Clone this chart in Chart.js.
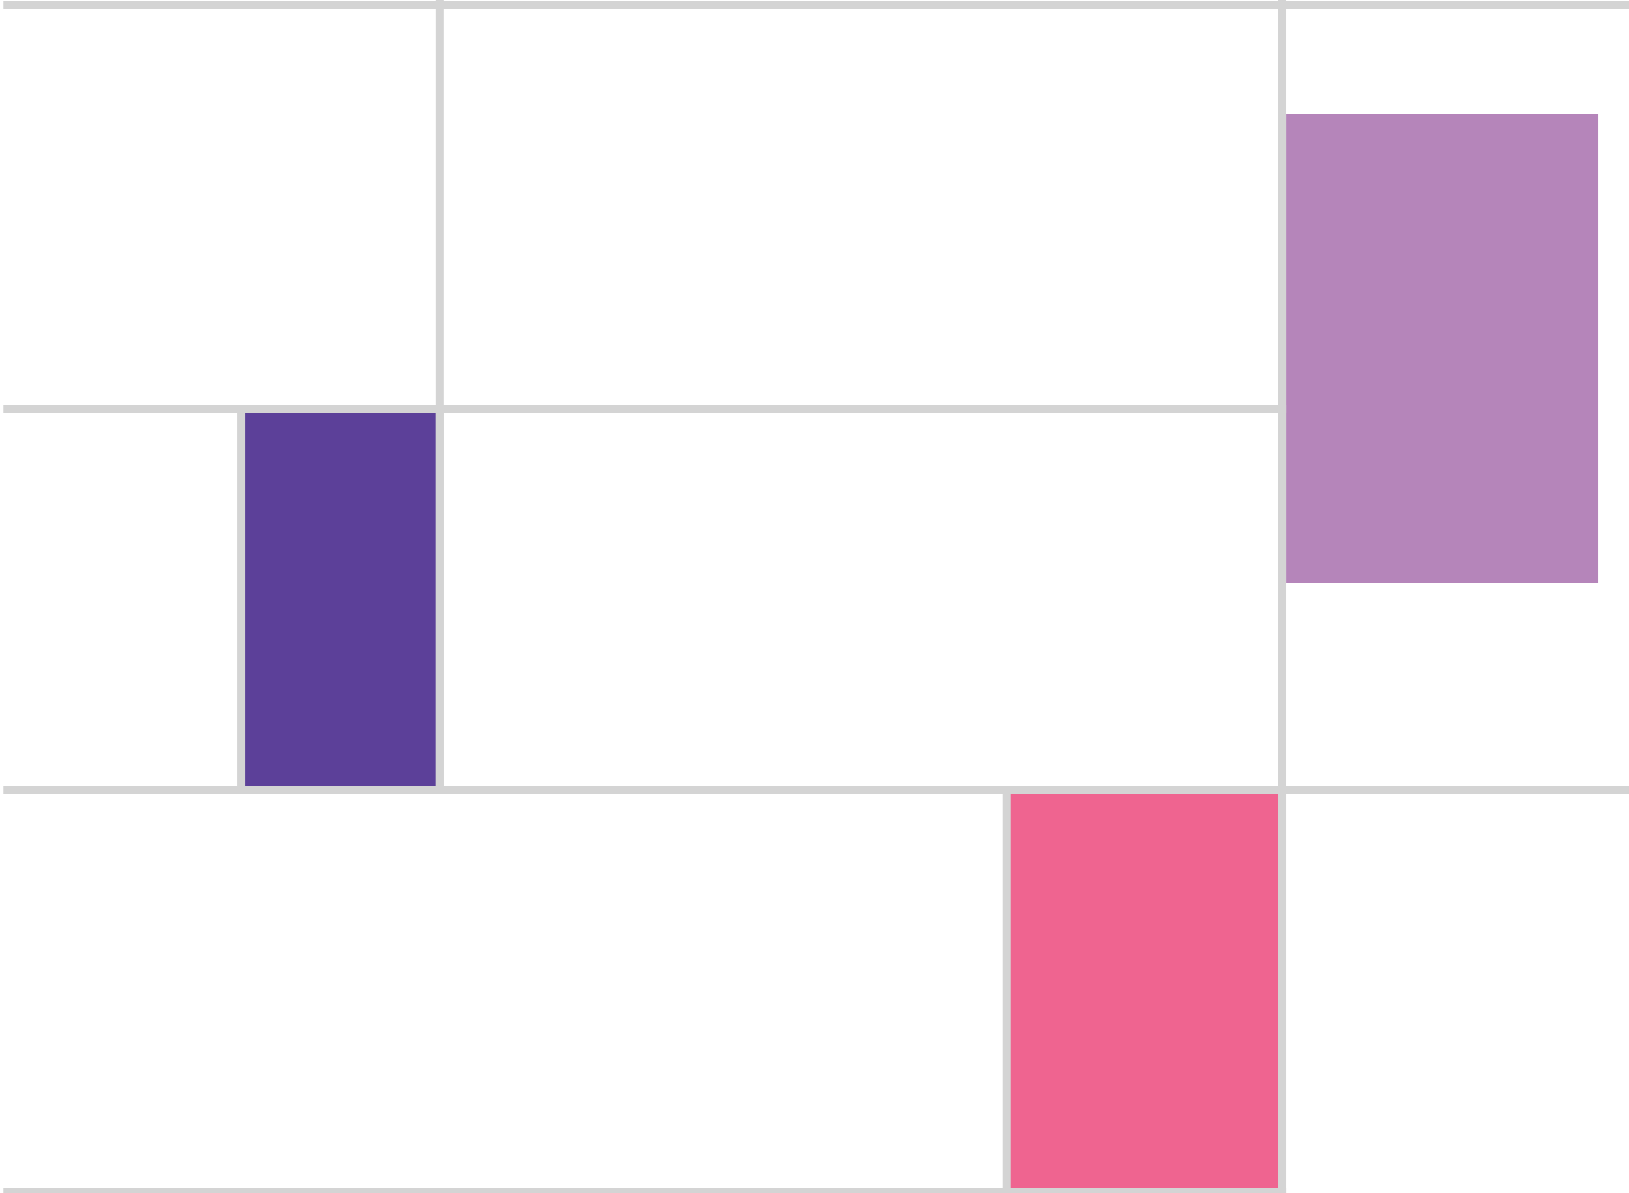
<!DOCTYPE html>
<html lang="en">
<head>
    <meta charset="UTF-8" />
    <title>Blocks</title>
    <script src="https://cdn.jsdelivr.net/npm/chart.js"></script>
    <style>
        html, body {
            margin: 0;
            padding: 0;
            background: #fff;
            overflow: hidden;
        }

        .chart-container {
            position: relative;
            width: 1629px;
            height: 1193px;
        }
    </style>
</head>
<body>

<div class="chart-container">
    <canvas id="blocksChart"></canvas>
</div>

<script>
    // grid lines (x and y run 0..100, y grows downwards)
    const hLineY    = [0.42, 34.28, 66.22, 99.92];
    const hLineFrom = [0.2, 0.2, 0.2, 0.2];
    const hLineTo   = [100, 78.95, 100, 78.95];

    const vLineX    = [27.0, 78.7];
    const vLineFrom = [0, 0];
    const vLineTo   = [66.5, 100];

    // coloured blocks
    const blockNames  = ['Dark purple', 'Light purple', 'Pink'];
    const blockLeft   = [14.8, 78.95, 61.8];
    const blockRight  = [27.0, 98.1, 78.7];
    const blockTop    = [34.28, 9.56, 66.22];
    const blockBottom = [66.22, 48.87, 99.92];
    const blockColors = ['#5c4099', '#b585ba', '#ef6490'];
    const blockBorder = [true, false, true];

    const gridColor = '#d4d4d4';

    const datasets = [];

    blockNames.forEach(function(name, i) {
        const l = blockLeft[i], r = blockRight[i], t = blockTop[i], b = blockBottom[i];
        datasets.push({
            label: name,
            data: [{x: l, y: t}, {x: r, y: t}, {x: r, y: b}, {x: l, y: b}, {x: l, y: t}],
            showLine: true,
            fill: 'shape',
            backgroundColor: blockColors[i],
            borderColor: blockBorder[i] ? gridColor : blockColors[i],
            borderWidth: blockBorder[i] ? 8 : 0,
            borderJoinStyle: 'miter',
            pointRadius: 0,
            clip: false,
            order: 2
        });
    });

    hLineY.forEach(function(y, i) {
        datasets.push({
            label: 'h' + i,
            data: [{x: hLineFrom[i], y: y}, {x: hLineTo[i], y: y}],
            showLine: true,
            borderColor: gridColor,
            borderWidth: 8,
            borderCapStyle: 'butt',
            pointRadius: 0,
            clip: false,
            order: 1
        });
    });

    vLineX.forEach(function(x, i) {
        datasets.push({
            label: 'v' + i,
            data: [{x: x, y: vLineFrom[i]}, {x: x, y: vLineTo[i]}],
            showLine: true,
            borderColor: gridColor,
            borderWidth: 8,
            borderCapStyle: 'butt',
            pointRadius: 0,
            clip: false,
            order: 1
        });
    });

    const ctx = document.getElementById('blocksChart').getContext('2d');
    new Chart(ctx, {
        type: 'scatter',
        data: { datasets: datasets },
        options: {
            responsive: true,
            maintainAspectRatio: false,
            animation: false,
            layout: { padding: 0 },
            plugins: {
                legend: { display: false },
                tooltip: { enabled: false }
            },
            scales: {
                x: { type: 'linear', min: 0, max: 100, display: false },
                y: { type: 'linear', min: 0, max: 100, reverse: true, display: false }
            }
        }
    });
</script>

</body>
</html>
